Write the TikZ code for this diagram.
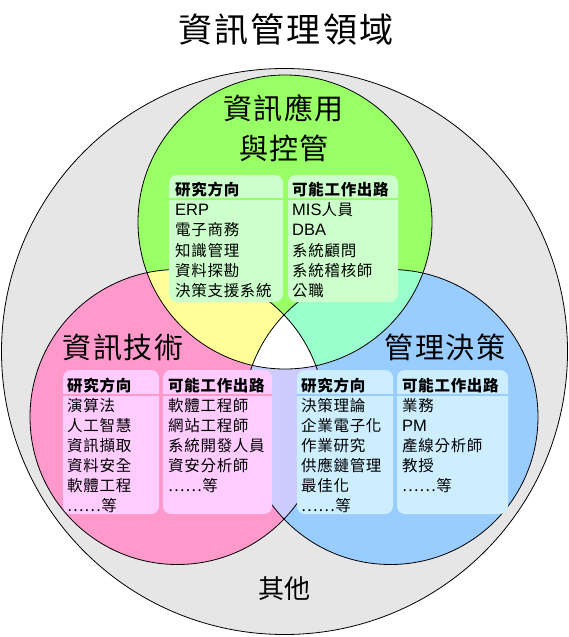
\documentclass[tikz,border=0pt]{standalone}
\usepackage{fontspec}
\setmainfont{Noto Sans CJK TC}
\newfontfamily\lat{Liberation Sans}
\newcommand\latt{\lat\fontsize{16.5}{16}\selectfont}
\definecolor{cgrey}{HTML}{E6E6E6}
\definecolor{cgreen}{HTML}{99FF66}
\definecolor{cpink}{HTML}{FF99CC}
\definecolor{cblue}{HTML}{99CCFF}
\definecolor{cyellow}{HTML}{FFFF99}
\definecolor{cmint}{HTML}{99FFCC}
\definecolor{clav}{HTML}{CCCCFF}
\definecolor{bgreen}{HTML}{CCFFCC}
\definecolor{bpink}{HTML}{FFCCFF}
\definecolor{bblue}{HTML}{CCEEFF}
\tikzset{
  bdtxt/.style={font=\fontsize{15.5}{16}\selectfont\addfontfeature{LetterSpace=4.5}, anchor=west, inner sep=0pt, text height=13.6pt, text depth=1.9pt},
  hdtxt/.style={bdtxt, font=\fontsize{15.5}{16}\selectfont\bfseries\addfontfeature{LetterSpace=4.5}},
  bigtxt/.style={font=\fontsize{29}{30}\selectfont\addfontfeature{LetterSpace=5}, inner sep=0pt, text height=25.5pt, text depth=3.5pt},
  titletxt/.style={font=\fontsize{34}{36}\selectfont\addfontfeature{LetterSpace=6}, inner sep=0pt, text height=30pt, text depth=4pt},
  othtxt/.style={font=\fontsize{26}{28}\selectfont\addfontfeature{LetterSpace=3}, inner sep=0pt, text height=22.9pt, text depth=3.1pt},
  ring/.style={draw=black, line width=0.8pt},
  cell/.style={rounded corners=8pt},
  rule/.style={line width=1.6pt}
}
\begin{document}
\begin{tikzpicture}[x=1pt,y=-1pt]
\useasboundingbox (0,0) rectangle (568,637);
\fill[white] (0,0) rectangle (568,637);
\coordinate (co) at (284.5,351.5);
\coordinate (cg) at (285,222);
\coordinate (cp) at (177.5,417);
\coordinate (cb) at (390.5,417);
% outer area
\fill[cgrey] (co) circle[radius=283];
\draw[ring] (co) circle[radius=283];
% circles
\fill[cgreen] (cg) circle[radius=147];
\fill[cpink] (cp) circle[radius=147.5];
\fill[cblue] (cb) circle[radius=147.5];
\begin{scope}
  \clip (cp) circle[radius=147.5];
  \fill[clav] (cb) circle[radius=147.5];
\end{scope}
\begin{scope}
  \clip (cg) circle[radius=147];
  \fill[cyellow] (cp) circle[radius=147.5];
  \fill[cmint] (cb) circle[radius=147.5];
  \clip (cp) circle[radius=147.5];
  \fill[white] (cb) circle[radius=147.5];
\end{scope}
\draw[ring] (cg) circle[radius=147];
\draw[ring] (cp) circle[radius=147.5];
\draw[ring] (cb) circle[radius=147.5];
% cells
\fill[bgreen,cell] (169,175) rectangle (283,302);
\fill[bgreen,cell] (288,175) rectangle (398,302);
\draw[cgreen,rule] (169,199) -- (398,199);
\fill[bpink,cell] (63,370) rectangle (159,514);
\fill[bpink,cell] (163,370) rectangle (272,514);
\draw[cpink,rule] (63,395) -- (272,395);
\fill[bblue,cell] (297,370) rectangle (393,514);
\fill[bblue,cell] (397,370) rectangle (508,514);
\draw[cblue,rule] (297,395) -- (508,395);
% titles
\node[titletxt] (title) at (286,29) {資訊管理領域};
\node[bigtxt] (ga) at (283.5,108.5) {資訊應用};
\node[bigtxt] (gb) at (284,148.5) {與控管};
\node[bigtxt] (pa) at (123,347.5) {資訊技術};
\node[bigtxt] (ba) at (445,347.5) {管理決策};
\node[othtxt] (oth) at (284.5,588.5) {其他};
% top section
\node[hdtxt] (g1h) at (175,189.5) {研究方向};
\node[bdtxt] (g11) at (175,210) {\latt ERP};
\node[bdtxt] (g12) at (175,230) {電子商務};
\node[bdtxt] (g13) at (175,250.5) {知識管理};
\node[bdtxt] (g14) at (175,270.5) {資料探勘};
\node[bdtxt] (g15) at (175,290.5) {決策支援系統};
\node[hdtxt] (g2h) at (292,189.5) {可能工作出路};
\node[bdtxt] (g21) at (292,210) {{\latt MIS}人員};
\node[bdtxt] (g22) at (292,230) {\latt DBA};
\node[bdtxt] (g23) at (292,250.5) {系統顧問};
\node[bdtxt] (g24) at (292,270.5) {系統稽核師};
\node[bdtxt] (g25) at (292,290.5) {公職};
% pink section
\node[hdtxt] (p1h) at (67,386) {研究方向};
\node[bdtxt] (p11) at (67,406) {演算法};
\node[bdtxt] (p12) at (67,426) {人工智慧};
\node[bdtxt] (p13) at (67,446) {資訊擷取};
\node[bdtxt] (p14) at (67,466) {資料安全};
\node[bdtxt] (p15) at (67,486) {軟體工程};
\node[bdtxt] (p16) at (67,506) {……等};
\node[hdtxt] (p2h) at (168,386) {可能工作出路};
\node[bdtxt] (p21) at (168,406) {軟體工程師};
\node[bdtxt] (p22) at (168,426) {網站工程師};
\node[bdtxt] (p23) at (168,446) {系統開發人員};
\node[bdtxt] (p24) at (168,466) {資安分析師};
\node[bdtxt] (p25) at (168,486) {……等};
% blue section
\node[hdtxt] (b1h) at (301,386) {研究方向};
\node[bdtxt] (b11) at (301,406) {決策理論};
\node[bdtxt] (b12) at (301,426) {企業電子化};
\node[bdtxt] (b13) at (301,446) {作業研究};
\node[bdtxt] (b14) at (301,466) {供應鏈管理};
\node[bdtxt] (b15) at (301,486) {最佳化};
\node[bdtxt] (b16) at (301,506) {……等};
\node[hdtxt] (b2h) at (402,386) {可能工作出路};
\node[bdtxt] (b21) at (402,406) {業務};
\node[bdtxt] (b22) at (402,426) {\latt PM};
\node[bdtxt] (b23) at (402,446) {產線分析師};
\node[bdtxt] (b24) at (402,466) {教授};
\node[bdtxt] (b25) at (402,486) {……等};
\end{tikzpicture}
\end{document}
